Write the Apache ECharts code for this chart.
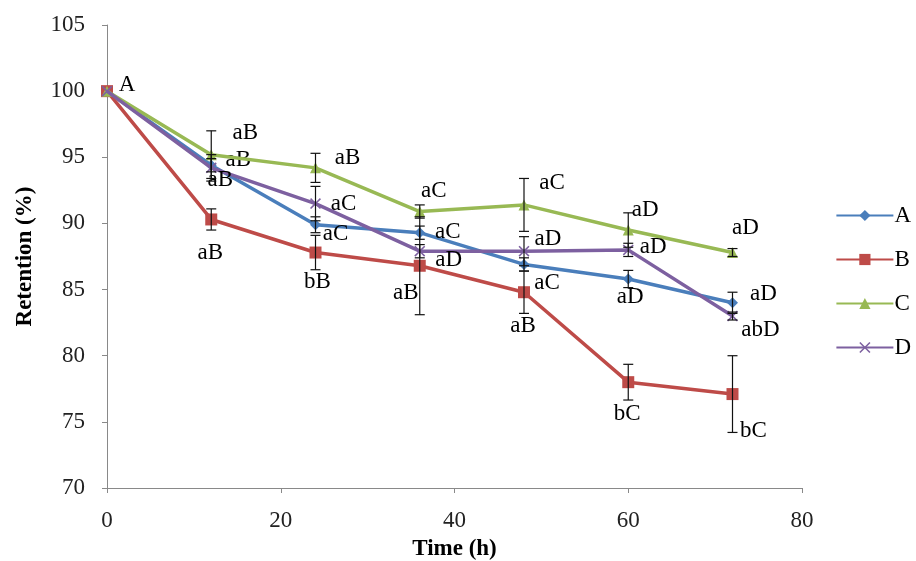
<!DOCTYPE html>
<html><head><meta charset="utf-8">
<script src="https://cdn.jsdelivr.net/npm/echarts@6/dist/echarts.min.js"></script>
<style>html,body{margin:0;padding:0;background:#fff}#c{width:916px;height:561px}</style>
</head><body><div id="c"></div>
<script>
var times = [0, 12, 24, 36, 48, 60, 72];
var seriesNames = ['A', 'B', 'C', 'D'];
var valuesA = [100, 94.4, 89.9, 89.3, 86.9, 85.8, 84.0];
var valuesB = [100, 90.3, 87.8, 86.8, 84.8, 78.0, 77.1];
var valuesC = [100, 95.2, 94.2, 90.9, 91.4, 89.5, 87.8];
var valuesD = [100, 94.2, 91.5, 87.9, 87.9, 88.0, 83.0];
var errA = [0, 0.5, 0.6, 0.5, 0.5, 0.65, 0.8];
var errB = [0, 0.8, 1.3, 3.7, 1.6, 1.35, 2.9];
var errC = [0, 1.8, 1.1, 0.5, 2.0, 1.3, 0.3];
var errD = [0, 1.0, 1.3, 0.5, 1.1, 0.5, 0.3];
var lettersA = ['A', 'aB', 'aC', 'aC', 'aC', 'aD', 'aD'];
var lettersB = ['', 'aB', 'bB', 'aB', 'aB', 'bC', 'bC'];
var lettersC = ['', 'aB', 'aB', 'aC', 'aC', 'aD', 'aD'];
var lettersD = ['', 'aB', 'aC', 'aD', 'aD', 'aD', 'abD'];
var yTicks = [70, 75, 80, 85, 90, 95, 100, 105];

// label offsets (style only)
var offA = [[20,-6],[27,-5],[20,9],[28,-1],[23,19],[2,18],[31,-9]];
var offB = [[0,0],[-1,33],[2,29],[-14,27],[-1,34],[-1,32],[21,37]];
var offC = [[0,0],[34,-22],[32,-10],[14,-21],[28,-22],[17,-20],[13,-25]];
var offD = [[0,0],[9,12],[28,0],[29,9],[24,-12],[25,-3],[28,14]];

var colors = ['#4a7ebb', '#be4b48', '#98b954', '#7d60a0'];
var symbols = ['diamond', 'rect', 'triangle',
  'path://M0,1 L1,0 L5,4 L9,0 L10,1 L6,5 L10,9 L9,10 L5,6 L1,10 L0,9 L4,5 Z'];
var symSizes = [11, 12, 11, 11];
var FONT = '"Liberation Serif", "Times New Roman", serif';

var allVals = [valuesA, valuesB, valuesC, valuesD];
var allErr = [errA, errB, errC, errD];
var allLetters = [lettersA, lettersB, lettersC, lettersD];
var allOff = [offA, offB, offC, offD];

var series = [];
seriesNames.forEach(function (name, si) {
  var data = times.map(function (t, i) {
    var txt = allLetters[si][i];
    return {
      value: [t, allVals[si][i]],
      label: {
        show: txt !== '',
        formatter: txt,
        position: 'inside',
        offset: allOff[si][i],
        color: '#000',
        fontFamily: FONT,
        fontSize: 23
      }
    };
  });
  series.push({
    name: name,
    type: 'line',
    data: data,
    symbol: symbols[si],
    symbolSize: symSizes[si],
    lineStyle: { width: 3.5, color: colors[si] },
    itemStyle: { color: colors[si] },
    z: 2 + si
  });
});

seriesNames.forEach(function (name, si) {
  var data = times.map(function (t, i) {
    return [t, allVals[si][i] - allErr[si][i], allVals[si][i] + allErr[si][i]];
  }).filter(function (d, i) { return allErr[si][i] > 0; });
  series.push({
    type: 'custom',
    name: name + '_err',
    z: 10,
    silent: true,
    renderItem: function (params, api) {
      var x = api.value(0);
      var lo = api.coord([x, api.value(1)]);
      var hi = api.coord([x, api.value(2)]);
      var hw = 5;
      var st = { stroke: '#111', lineWidth: 1.2 };
      return {
        type: 'group',
        children: [
          { type: 'line', shape: { x1: lo[0], y1: lo[1], x2: hi[0], y2: hi[1] }, style: st },
          { type: 'line', shape: { x1: lo[0] - hw, y1: lo[1], x2: lo[0] + hw, y2: lo[1] }, style: st },
          { type: 'line', shape: { x1: hi[0] - hw, y1: hi[1], x2: hi[0] + hw, y2: hi[1] }, style: st }
        ]
      };
    },
    encode: { x: 0, y: [1, 2] },
    data: data
  });
});

var chart = echarts.init(document.getElementById('c'));
chart.setOption({
  animation: false,
  color: colors,
  grid: { left: 107, right: 114, top: 25, bottom: 73, containLabel: false, outerBoundsMode: 'none' },
  legend: {
    data: seriesNames,
    orient: 'vertical',
    right: 0,
    top: 199,
    itemGap: 21,
    itemWidth: 57,
    itemHeight: 14,
    textStyle: { fontFamily: FONT, fontSize: 23, color: '#000', padding: [0, 0, 0, -4] }
  },
  xAxis: {
    type: 'value',
    min: 0, max: 80, interval: 20,
    name: 'Time (h)',
    nameLocation: 'middle',
    nameGap: 50,
    nameTextStyle: { fontFamily: FONT, fontSize: 23, fontWeight: 'bold', color: '#000' },
    axisLine: { lineStyle: { color: '#898989', width: 1 } },
    axisTick: { show: true, length: 5, lineStyle: { color: '#898989' } },
    axisLabel: { fontFamily: FONT, fontSize: 23, color: '#222', margin: 21 },
    splitLine: { show: false }
  },
  yAxis: {
    type: 'value',
    min: yTicks[0], max: yTicks[yTicks.length - 1], interval: 5,
    name: 'Retention (%)',
    nameLocation: 'middle',
    nameGap: 70,
    nameRotate: 90,
    nameTextStyle: { fontFamily: FONT, fontSize: 23, fontWeight: 'bold', color: '#000' },
    axisLine: { show: true, lineStyle: { color: '#898989', width: 1 } },
    axisTick: { show: true, length: 5, lineStyle: { color: '#898989' } },
    axisLabel: { fontFamily: FONT, fontSize: 23, color: '#222', margin: 22 },
    splitLine: { show: false }
  },
  series: series
});
</script>
</body></html>
